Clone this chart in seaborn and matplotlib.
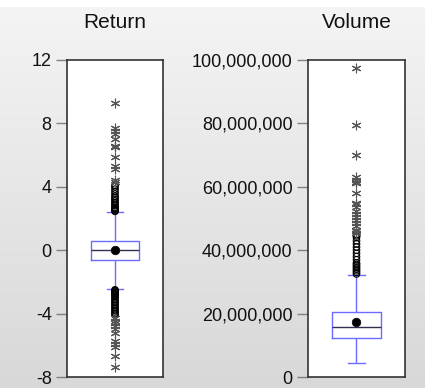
import numpy as np
import pandas as pd
import matplotlib
matplotlib.use("Agg")
import matplotlib.pyplot as plt
from matplotlib.ticker import FuncFormatter
import seaborn as sns

# Five-number summaries: lower whisker, Q1, median, Q3, upper whisker
return_summary = [-2.47, -0.64, 0.0, 0.60, 2.43]
return_mean = 0.02
# Near outliers (between inner and outer fences) and far outliers
return_near = [2.45, 2.5, 2.55, 2.6, 2.65, 2.7, 2.8, 2.9, 3.0, 3.1, 3.2, 3.3,
               3.4, 3.55, 3.7, 3.85, 4.0, 4.1,
               -2.5, -2.55, -2.6, -2.65, -2.7, -2.75, -2.8, -2.85, -2.9, -3.0,
               -3.1, -3.2, -3.3, -3.4, -3.5, -3.6, -3.7, -3.8, -3.9, -4.0, -4.1]
return_far = [4.3, 4.4, 5.1, 5.3, 5.9, 6.5, 6.6, 7.0, 7.3, 7.5, 7.7, 9.3,
              -4.3, -4.45, -4.6, -4.8, -5.0, -5.2, -5.7, -5.9, -6.1, -6.7, -7.4]

volume_summary = [4.4e6, 12.3e6, 15.8e6, 20.4e6, 32.2e6]
volume_mean = 17.3e6
volume_near = [32.5e6, 33e6, 33.5e6, 34e6, 34.5e6, 35e6, 35.5e6, 36e6, 37e6,
               38e6, 39e6, 40e6, 41e6, 42e6, 43e6, 44e6, 44.5e6, 45e6]
volume_far = [45.5e6, 46e6, 46.5e6, 47.5e6, 48.5e6, 49.5e6, 50.5e6, 51.5e6,
              52.5e6, 53.5e6, 54.5e6, 55e6, 58e6, 61.2e6, 61.6e6, 62e6, 63e6,
              70e6, 79.5e6, 97.5e6]

titles = ["Return", "Volume"]
return_ticks = [-8, -4, 0, 4, 8, 12]
volume_ticks = [0, 20e6, 40e6, 60e6, 80e6, 100e6]

plt.rcParams["font.family"] = ["Liberation Sans", "DejaVu Sans"]

W, H = 427, 388
fig = plt.figure(figsize=(W / 100, H / 100), dpi=100)

# Grey vertical gradient backdrop
bg = fig.add_axes([0, 0, 425 / W, 1 - 7 / H], zorder=-10)
grad = np.linspace(0, 1, 256).reshape(-1, 1)
bg.imshow(grad, aspect="auto", cmap=matplotlib.colors.LinearSegmentedColormap.from_list(
    "g", ["#f4f4f4", "#d8d8d8"]), extent=[0, 1, 1, 0])
bg.set_axis_off()

box_blue = "#6b6bff"
panels = [
    (return_summary, return_mean, return_near, return_far, (-8, 12), return_ticks,
     [67 / W, 11 / H, 96 / W, 317 / H], lambda v, p: f"{v:g}"),
    (volume_summary, volume_mean, volume_near, volume_far, (0, 100e6), volume_ticks,
     [308 / W, 11 / H, 97 / W, 317 / H], lambda v, p: f"{v:,.0f}"),
]

for title, (summ, mean, near, far, ylim, ticks, rect, fmt) in zip(titles, panels):
    ax = fig.add_axes(rect)
    ax.set_facecolor("white")
    sns.boxplot(y=summ, ax=ax, width=0.5, whis=(0, 100), showfliers=False,
                fill=False, color=box_blue, linewidth=1.0,
                capwidths=1 / 6,
                medianprops=dict(color="#303050", linewidth=1.0))
    sns.scatterplot(x=np.zeros(len(near)), y=near, ax=ax, marker="o", s=22,
                    facecolor="none", edgecolor="black", linewidth=0.8, zorder=4)
    sns.scatterplot(x=np.zeros(len(far)), y=far, ax=ax, marker=(6, 2, 0), s=40,
                    color="#555555", linewidth=0.8, zorder=4)
    sns.scatterplot(x=[0], y=[mean], ax=ax, marker="o", s=38, color="black",
                    edgecolor="black", zorder=5)
    ax.set_xlim(-0.5, 0.5)
    ax.set_ylim(*ylim)
    ax.set_yticks(ticks)
    ax.yaxis.set_major_formatter(FuncFormatter(fmt))
    ax.set_xticks([])
    ax.set_xlabel("")
    ax.set_ylabel("")
    ax.tick_params(axis="y", length=8, width=1, color="#808080",
                   labelsize=13, labelcolor="#111111", pad=3)
    for s in ax.spines.values():
        s.set_visible(True)
        s.set_color("#333333")
        s.set_linewidth(1.2)
    ax.set_title(title, fontsize=15, color="#111111", pad=23)

fig.savefig("out.png", dpi=100)
